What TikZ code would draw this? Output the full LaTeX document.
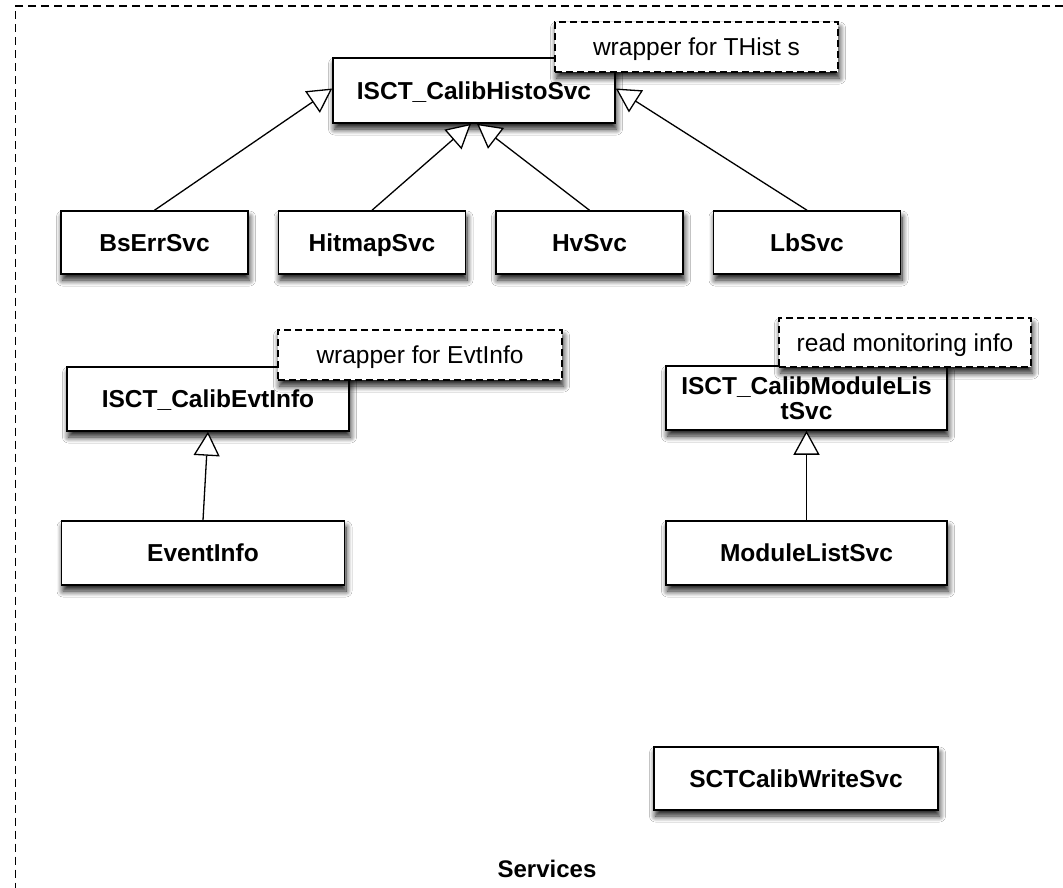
\documentclass[tikz,border=0pt]{standalone}
\usepackage{fontspec}
\setmainfont{Liberation Sans}
\usetikzlibrary{arrows.meta,shadows.blur}
\begin{document}
\begin{tikzpicture}[x=1pt,y=-1pt,
  softshadow/.style={blur shadow={shadow xshift=1.5pt, shadow yshift=-6pt, shadow blur radius=6pt, shadow opacity=90, shadow blur steps=10}},
  clsbase/.style={draw=black, line width=1.5pt, fill=white, inner sep=0pt, minimum height=64pt, align=center,
    font=\fontsize{24.5}{25}\selectfont\bfseries, softshadow},
  cls/.style={clsbase, text height=17.5pt, text depth=0pt},
  smallcls/.style={cls, minimum width=187pt},
  widecls/.style={cls, minimum width=282pt},
  notebox/.style={draw=black, line width=1.4pt, dash pattern=on 7pt off 4pt, fill=white, inner sep=0pt,
    minimum height=50pt, text height=17.5pt, text depth=0pt, font=\fontsize{24.5}{26}\selectfont, softshadow},
  inh/.style={line width=1.3pt, -{Triangle[length=24pt,width=26pt,fill=white,line width=1.3pt]}}
]
\fill[white] (0,0) rectangle (1063,888);
\useasboundingbox (0,0) rectangle (1063,888);

% outer package frame (cut by the picture edge)
\draw[line width=1.3pt, dash pattern=on 8pt off 5pt] (1063,6) -- (15.5,6) -- (15.5,888);

% classes
\node[widecls, minimum height=65pt] (histo) at (474,90.5) {ISCT\_CalibHistoSvc};
\node[notebox, minimum width=283pt] (noteH) at (696.5,47) {wrapper for THist s};

\node[smallcls, minimum height=63pt] (bs) at (154.5,242.5) {BsErrSvc};
\node[smallcls, minimum height=63pt] (hit) at (372,242.5) {HitmapSvc};
\node[smallcls, minimum height=63pt] (hv) at (589.5,242.5) {HvSvc};
\node[smallcls, minimum height=63pt] (lb) at (807,242.5) {LbSvc};

\node[widecls] (evt) at (208,399) {ISCT\_CalibEvtInfo};
\node[notebox, minimum width=284pt] (noteE) at (420,355) {wrapper for EvtInfo};
\node[widecls, minimum width=283pt] (eventinfo) at (203,553) {EventInfo};

\node[clsbase, minimum width=281pt] (mod) at (806.5,398) {ISCT\_CalibModuleLis\\tSvc};
\node[notebox, minimum width=252pt, minimum height=49pt] (noteM) at (905,342.5) {read monitoring info};
\node[widecls, minimum width=281pt] (modlist) at (806.5,553) {ModuleListSvc};

\node[widecls, minimum width=284pt, minimum height=63pt] (write) at (796,778.5) {SCTCalibWriteSvc};

\node[font=\fontsize{24}{26}\selectfont\bfseries, inner sep=0pt] (services) at (547,869) {Services};

% generalisations
\draw[inh] (bs.north) -- ([yshift=2pt]histo.west);
\draw[inh] (hit.north) -- ([xshift=-3pt]histo.south);
\draw[inh] (hv.north) -- ([xshift=3pt]histo.south);
\draw[inh] (lb.north) -- ([yshift=2pt]histo.east);
\draw[inh] (eventinfo.north) -- (evt.south);
\draw[inh] (modlist.north) -- (mod.south);
\end{tikzpicture}
\end{document}
